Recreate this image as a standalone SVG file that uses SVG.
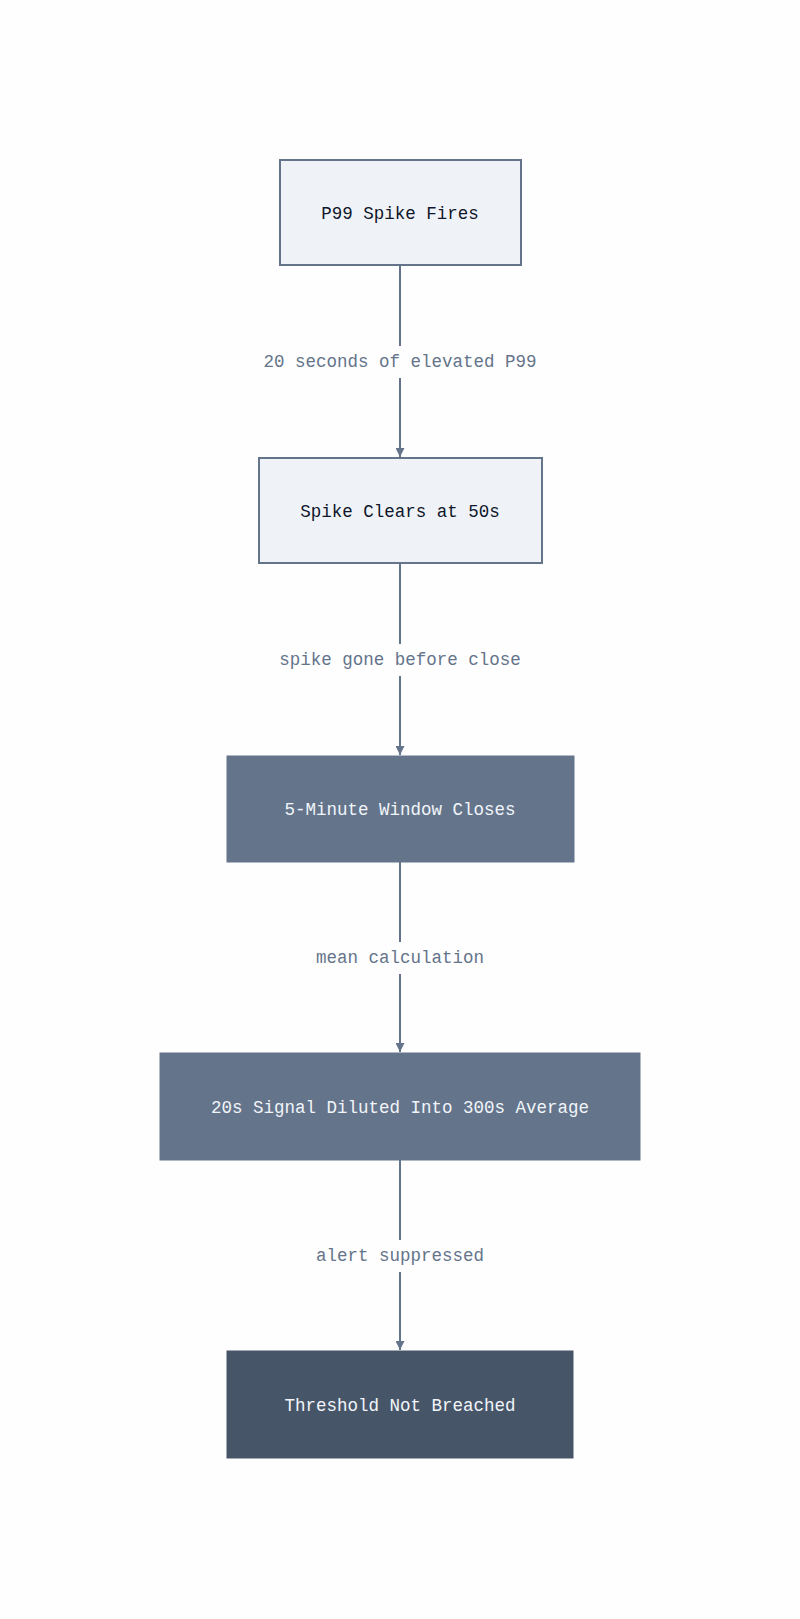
<svg xmlns="http://www.w3.org/2000/svg" width="800" height="1619" viewBox="0 0 800 1619">
<defs>
<style>
.l{fill:#eff3f8;stroke:#64748b;stroke-width:2}
.m{fill:#64748b;stroke:#64748b;stroke-width:1}
.d{fill:#475569;stroke:#475569;stroke-width:1}
text{font-family:"Liberation Mono",monospace;font-size:17.5px;text-anchor:middle;dominant-baseline:central}
.tl{fill:#0f172a}.tw{fill:#f1f5f9}
.e{stroke:#64748b;stroke-width:2;fill:none}
.el{fill:#64748b}
</style>
<marker id="a" viewBox="0 0 10 10" refX="10" refY="5" markerWidth="9" markerHeight="9" markerUnits="userSpaceOnUse" orient="auto"><path d="M0,0L10,5L0,10z" fill="#64748b"/></marker>
</defs>
<rect width="800" height="1619" fill="#fefefe"/>
<g id="edges">
<path class="e" d="M400,258V457" marker-end="url(#a)"/>
<path class="e" d="M400,546V755" marker-end="url(#a)"/>
<path class="e" d="M400,836V1052" marker-end="url(#a)"/>
<path class="e" d="M400,1124V1350" marker-end="url(#a)"/>
<rect x="195" y="346" width="410" height="32" fill="#fefefe"/>
<rect x="220" y="644" width="360" height="32" fill="#fefefe"/>
<rect x="270" y="942" width="260" height="32" fill="#fefefe"/>
<rect x="270" y="1240" width="260" height="32" fill="#fefefe"/>
<text class="el" x="400" y="362">20 seconds of elevated P99</text>
<text class="el" x="400" y="660">spike gone before close</text>
<text class="el" x="400" y="958">mean calculation</text>
<text class="el" x="400" y="1256">alert suppressed</text>
</g>
<g id="n1"><rect class="l" x="280" y="160" width="241" height="105"/><text class="tl" x="400" y="214">P99 Spike Fires</text></g>
<g id="n2"><rect class="l" x="259" y="458" width="283" height="105"/><text class="tl" x="400" y="512">Spike Clears at 50s</text></g>
<g id="n3"><rect class="m" x="227" y="756" width="347" height="106"/><text class="tw" x="400" y="810">5-Minute Window Closes</text></g>
<g id="n4"><rect class="m" x="160" y="1053" width="480" height="107"/><text class="tw" x="400" y="1108">20s Signal Diluted Into 300s Average</text></g>
<g id="n5"><rect class="d" x="227" y="1351" width="346" height="107"/><text class="tw" x="400" y="1406">Threshold Not Breached</text></g>
</svg>
